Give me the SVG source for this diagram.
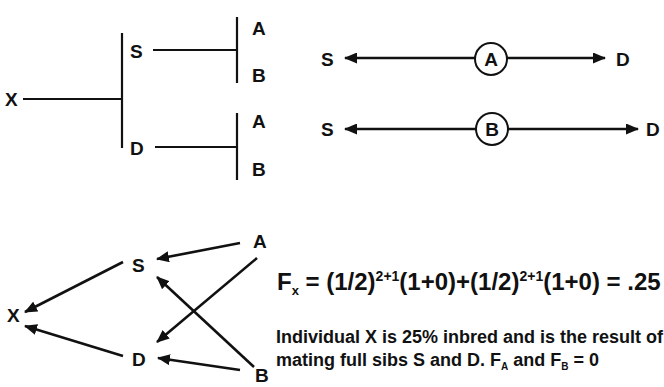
<svg xmlns="http://www.w3.org/2000/svg" width="664" height="387" viewBox="0 0 664 387">
<style>
  .lbl { font-family: "Liberation Sans", Arial, sans-serif; font-weight: bold; font-size: 19px; fill: #111; }
  .ln { stroke: #111; stroke-width: 2.2; fill: none; }
  .ar { stroke: #111; stroke-width: 2.6; fill: none; marker-end: url(#ah); }
  .txt { font-family: "Liberation Sans", Arial, sans-serif; font-weight: bold; fill: #111; }
</style>
<defs>
  <marker id="ah" markerUnits="userSpaceOnUse" markerWidth="13" markerHeight="11" refX="12" refY="5.5" orient="auto">
    <path d="M0,0 L13,5.5 L0,11 z" fill="#111"/>
  </marker>
</defs>
<rect width="664" height="387" fill="#fff"/>

<!-- Top-left pedigree tree -->
<g id="tree">
  <g id="tree-X"><text class="lbl" x="5" y="106">X</text></g>
  <g id="tree-S"><text class="lbl" x="130" y="58">S</text></g>
  <g id="tree-D"><text class="lbl" x="130" y="155">D</text></g>
  <g id="tree-SA"><text class="lbl" x="252" y="35">A</text></g>
  <g id="tree-SB"><text class="lbl" x="252" y="82">B</text></g>
  <g id="tree-DA"><text class="lbl" x="252" y="128">A</text></g>
  <g id="tree-DB"><text class="lbl" x="252" y="176">B</text></g>
  <g id="tree-lines">
    <line class="ln" x1="23" y1="99" x2="122" y2="99"/>
    <line class="ln" x1="122" y1="33" x2="122" y2="148"/>
    <line class="ln" x1="153" y1="50" x2="237" y2="50"/>
    <line class="ln" x1="237" y1="17" x2="237" y2="83"/>
    <line class="ln" x1="155" y1="147" x2="237" y2="147"/>
    <line class="ln" x1="237" y1="113" x2="237" y2="180"/>
  </g>
</g>

<!-- Top-right path diagrams -->
<g id="pathA">
  <text class="lbl" x="321" y="66">S</text>
  <text class="lbl" x="616" y="66">D</text>
  <circle cx="491" cy="59" r="16" fill="#fff" stroke="#111" stroke-width="2"/>
  <text class="lbl" x="491" y="66" text-anchor="middle">A</text>
</g>
<g id="pathB">
  <text class="lbl" x="321" y="136">S</text>
  <text class="lbl" x="646" y="136">D</text>
  <circle cx="492" cy="129" r="16" fill="#fff" stroke="#111" stroke-width="2"/>
  <text class="lbl" x="492" y="136" text-anchor="middle">B</text>
</g>

<!-- Bottom-left arrow diagram nodes -->
<g id="X"><text class="lbl" x="7" y="322">X</text></g>
<g id="S"><text class="lbl" x="132" y="272">S</text></g>
<g id="D"><text class="lbl" x="132" y="366">D</text></g>
<g id="A"><text class="lbl" x="253" y="248">A</text></g>
<g id="B"><text class="lbl" x="255" y="382">B</text></g>

<g id="connectors">
  <line class="ar" x1="475" y1="58" x2="345" y2="58" stroke-width="2.2"/>
  <line class="ar" x1="507" y1="58" x2="605" y2="58" stroke-width="2.2"/>
  <line class="ar" x1="476" y1="129" x2="345" y2="129" stroke-width="2.2"/>
  <line class="ar" x1="508" y1="129" x2="638" y2="129" stroke-width="2.2"/>
  <line class="ar" x1="123" y1="262" x2="25" y2="312"/>
  <line class="ar" x1="123" y1="356" x2="25" y2="326"/>
  <line class="ar" x1="240" y1="243" x2="157" y2="259"/>
  <line class="ar" x1="257" y1="258" x2="157" y2="342"/>
  <line class="ar" x1="254" y1="367" x2="157" y2="277"/>
  <line class="ar" x1="240" y1="370" x2="158" y2="358"/>
</g>

<!-- Formula and caption -->
<g id="formula">
  <text class="txt" x="277" y="290" font-size="24">F<tspan font-size="13" dy="5">x</tspan><tspan dy="-5"> = (1/2)</tspan><tspan font-size="14" dy="-9">2+1</tspan><tspan dy="9">(1+0)+(1/2)</tspan><tspan font-size="14" dy="-9">2+1</tspan><tspan dy="9">(1+0) = .25</tspan></text>
</g>
<g id="caption">
  <text class="txt" x="276" y="343" font-size="18">Individual X is 25% inbred and is the result of</text>
  <text class="txt" x="276" y="366" font-size="18">mating full sibs S and D. F<tspan font-size="10" dy="4">A</tspan><tspan dy="-4"> and F</tspan><tspan font-size="10" dy="4">B</tspan><tspan dy="-4"> = 0</tspan></text>
</g>
</svg>
